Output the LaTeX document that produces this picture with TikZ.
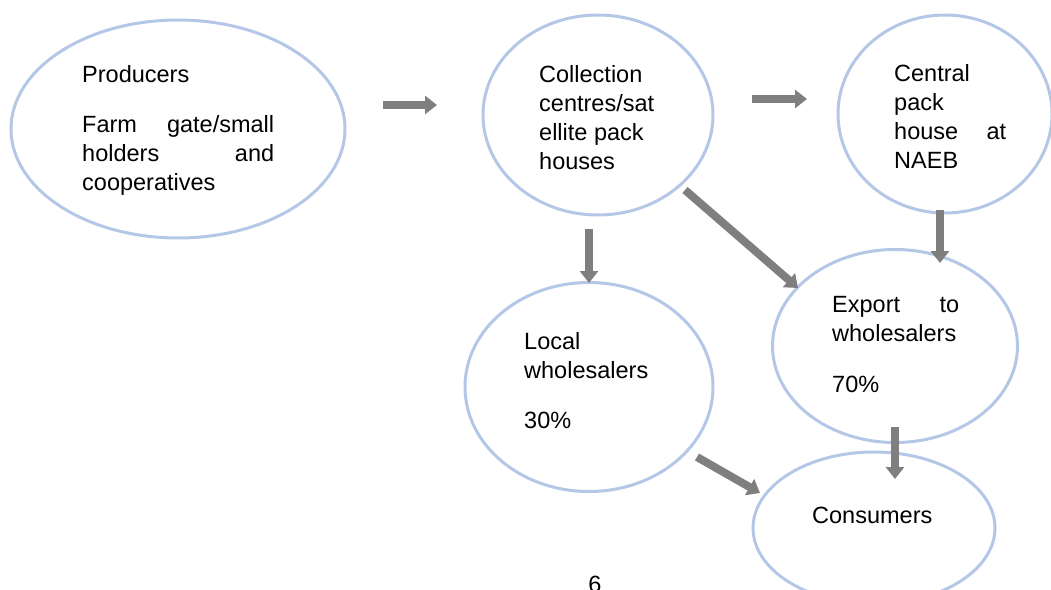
\documentclass[tikz,border=0pt]{standalone}
\usepackage{fontspec}
\setmainfont{Liberation Sans}
\usetikzlibrary{shapes.geometric,arrows.meta}

\definecolor{ovalblue}{RGB}{180,199,231}
\definecolor{flowgray}{RGB}{127,127,127}

\tikzset{
  oval/.style={ellipse, draw=ovalblue, line width=3pt, inner sep=0pt},
  label/.style={anchor=base west, inner sep=0pt, align=left,
    font=\fontsize{23.5}{29}\selectfont},
  flow/.style={draw=flowgray, line width=8pt,
    -{Triangle[length=12pt,width=18pt]}, fill=flowgray}
}

\begin{document}
\begin{tikzpicture}[x=1pt,y=-1pt]
\useasboundingbox (0,0) rectangle (1051,589);

%Ovals
\node [oval, minimum width=334pt, minimum height=218pt] (prod) at (178,129) {};
\node [oval, minimum width=230pt, minimum height=200pt] (coll) at (598,115) {};
\node [oval, minimum width=214pt, minimum height=198pt] (cent) at (945,114) {};
\node [oval, minimum width=248pt, minimum height=209pt] (local) at (589,387) {};
\node [oval, minimum width=245pt, minimum height=193pt] (export) at (895,346) {};
\node [oval, minimum width=242pt, minimum height=152pt] (cons) at (874,528) {};

%Texts (anchored at the baseline of the last line)
\node [label] (tprod) at (82,82) {Producers};
\node [label] (tfarm) at (82,190) {\makebox[192pt][s]{Farm gate/small}\\
  \makebox[192pt][s]{holders and}\\cooperatives};
\node [label] (tcoll) at (539,169) {Collection\\centres/sat\\ellite pack\\houses};
\node [label] (tcent) at (894,168) {Central\\pack\\\makebox[112pt][s]{house at}\\NAEB};
\node [label] (tlocal) at (524,378) {Local\\wholesalers};
\node [label] (tlocalpc) at (524,428) {30\%};
\node [label] (texport) at (832,341) {\makebox[127pt][s]{Export to}\\wholesalers};
\node [label] (texportpc) at (832,392) {70\%};
\node [label] (tcons) at (812,523) {Consumers};
\node [label, anchor=base] (tpage) at (595,592) {6};

%Arrow ends
\coordinate (p1) at (383,105); \coordinate (c1) at (437,105);
\coordinate (c2) at (752,99);  \coordinate (n2) at (807,99);
\coordinate (c3) at (589,229); \coordinate (l3) at (589,283);
\coordinate (c4) at (685,190); \coordinate (e4) at (798,288);
\coordinate (n5) at (940,210); \coordinate (e5) at (940,263);
\coordinate (e6) at (895,427); \coordinate (s6) at (895,479);
\coordinate (l7) at (697,457); \coordinate (s7) at (760,493);

%Block arrows
\draw [flow] (p1) -- (c1);
\draw [flow] (c2) -- (n2);
\draw [flow] (c3) -- (l3);
\draw [flow] (c4) -- (e4);
\draw [flow] (n5) -- (e5);
\draw [flow] (e6) -- (s6);
\draw [flow] (l7) -- (s7);

\end{tikzpicture}
\end{document}
